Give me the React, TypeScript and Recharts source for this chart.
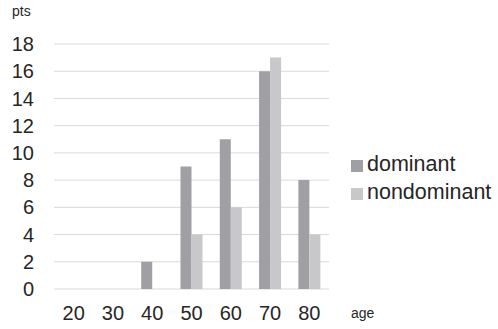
import React from 'react';
import { BarChart, Bar, XAxis, YAxis, CartesianGrid, Legend, Label } from 'recharts';

// Age groups and points per hand
const ages = ['20', '30', '40', '50', '60', '70', '80'];
const dominant = [0, 0, 2, 9, 11, 16, 8];
const nondominant = [0, 0, 0, 4, 6, 17, 4];
const yTicks = [0, 2, 4, 6, 8, 10, 12, 14, 16, 18];

const data = ages.map((age, i) => ({
  age,
  dominant: dominant[i],
  nondominant: nondominant[i],
}));

const FONT = '"Liberation Sans", Arial, sans-serif';
const TEXT = '#262626';
const DARK = '#a0a0a4';
const LIGHT = '#c8c8ca';
const LEGEND_W = 145;

const LegendList = (props: any) => {
  const items = props.payload || [];
  return (
    <div style={{ fontFamily: FONT }}>
      {items.map((it: any) => (
        <div
          key={it.value}
          style={{ display: 'flex', alignItems: 'center', height: 28 }}
        >
          <span
            style={{
              display: 'inline-block',
              width: 12,
              height: 12,
              background: it.color,
              marginRight: 4,
              marginTop: 4,
            }}
          />
          <span style={{ fontSize: 21.5, color: TEXT, lineHeight: '28px' }}>
            {it.value}
          </span>
        </div>
      ))}
    </div>
  );
};

export default function App() {
  return (
    <div style={{ position: 'absolute', left: 0, top: 0, background: '#fff' }}>
      <BarChart
        width={498}
        height={329}
        data={data}
        margin={{ top: 44, right: 169 - LEGEND_W, bottom: 10, left: 0 }}
        barCategoryGap="22%"
        barGap={0}
      >
        <CartesianGrid vertical={false} stroke="#d9d9d9" strokeWidth={1} />
        <XAxis
          dataKey="age"
          interval={0}
          axisLine={false}
          tickLine={false}
          tickSize={0}
          tickMargin={17}
          height={30}
          tick={{ fill: TEXT, fontSize: 20, fontFamily: FONT }}
        >
          <Label
            content={(p: any) => {
              const vb = p.viewBox;
              return (
                <text
                  x={vb.x + vb.width + 22}
                  y={vb.y + 29}
                  fill={TEXT}
                  fontSize={14}
                  fontFamily={FONT}
                >
                  age
                </text>
              );
            }}
          />
        </XAxis>
        <YAxis
          width={54}
          domain={[0, 18]}
          ticks={yTicks}
          interval={0}
          axisLine={false}
          tickLine={false}
          tickSize={0}
          tickMargin={20}
          tick={{ fill: TEXT, fontSize: 20, fontFamily: FONT }}
        >
          <Label
            content={(p: any) => {
              const vb = p.viewBox;
              return (
                <text
                  x={vb.x + 12}
                  y={vb.y - 28}
                  fill={TEXT}
                  fontSize={14}
                  fontFamily={FONT}
                >
                  pts
                </text>
              );
            }}
          />
        </YAxis>
        <Legend
          layout="vertical"
          verticalAlign="middle"
          align="right"
          content={<LegendList />}
          wrapperStyle={{ left: 351, top: 150, width: LEGEND_W }}
        />
        <Bar dataKey="dominant" name="dominant" fill={DARK} isAnimationActive={false} />
        <Bar dataKey="nondominant" name="nondominant" fill={LIGHT} isAnimationActive={false} />
      </BarChart>
    </div>
  );
}
